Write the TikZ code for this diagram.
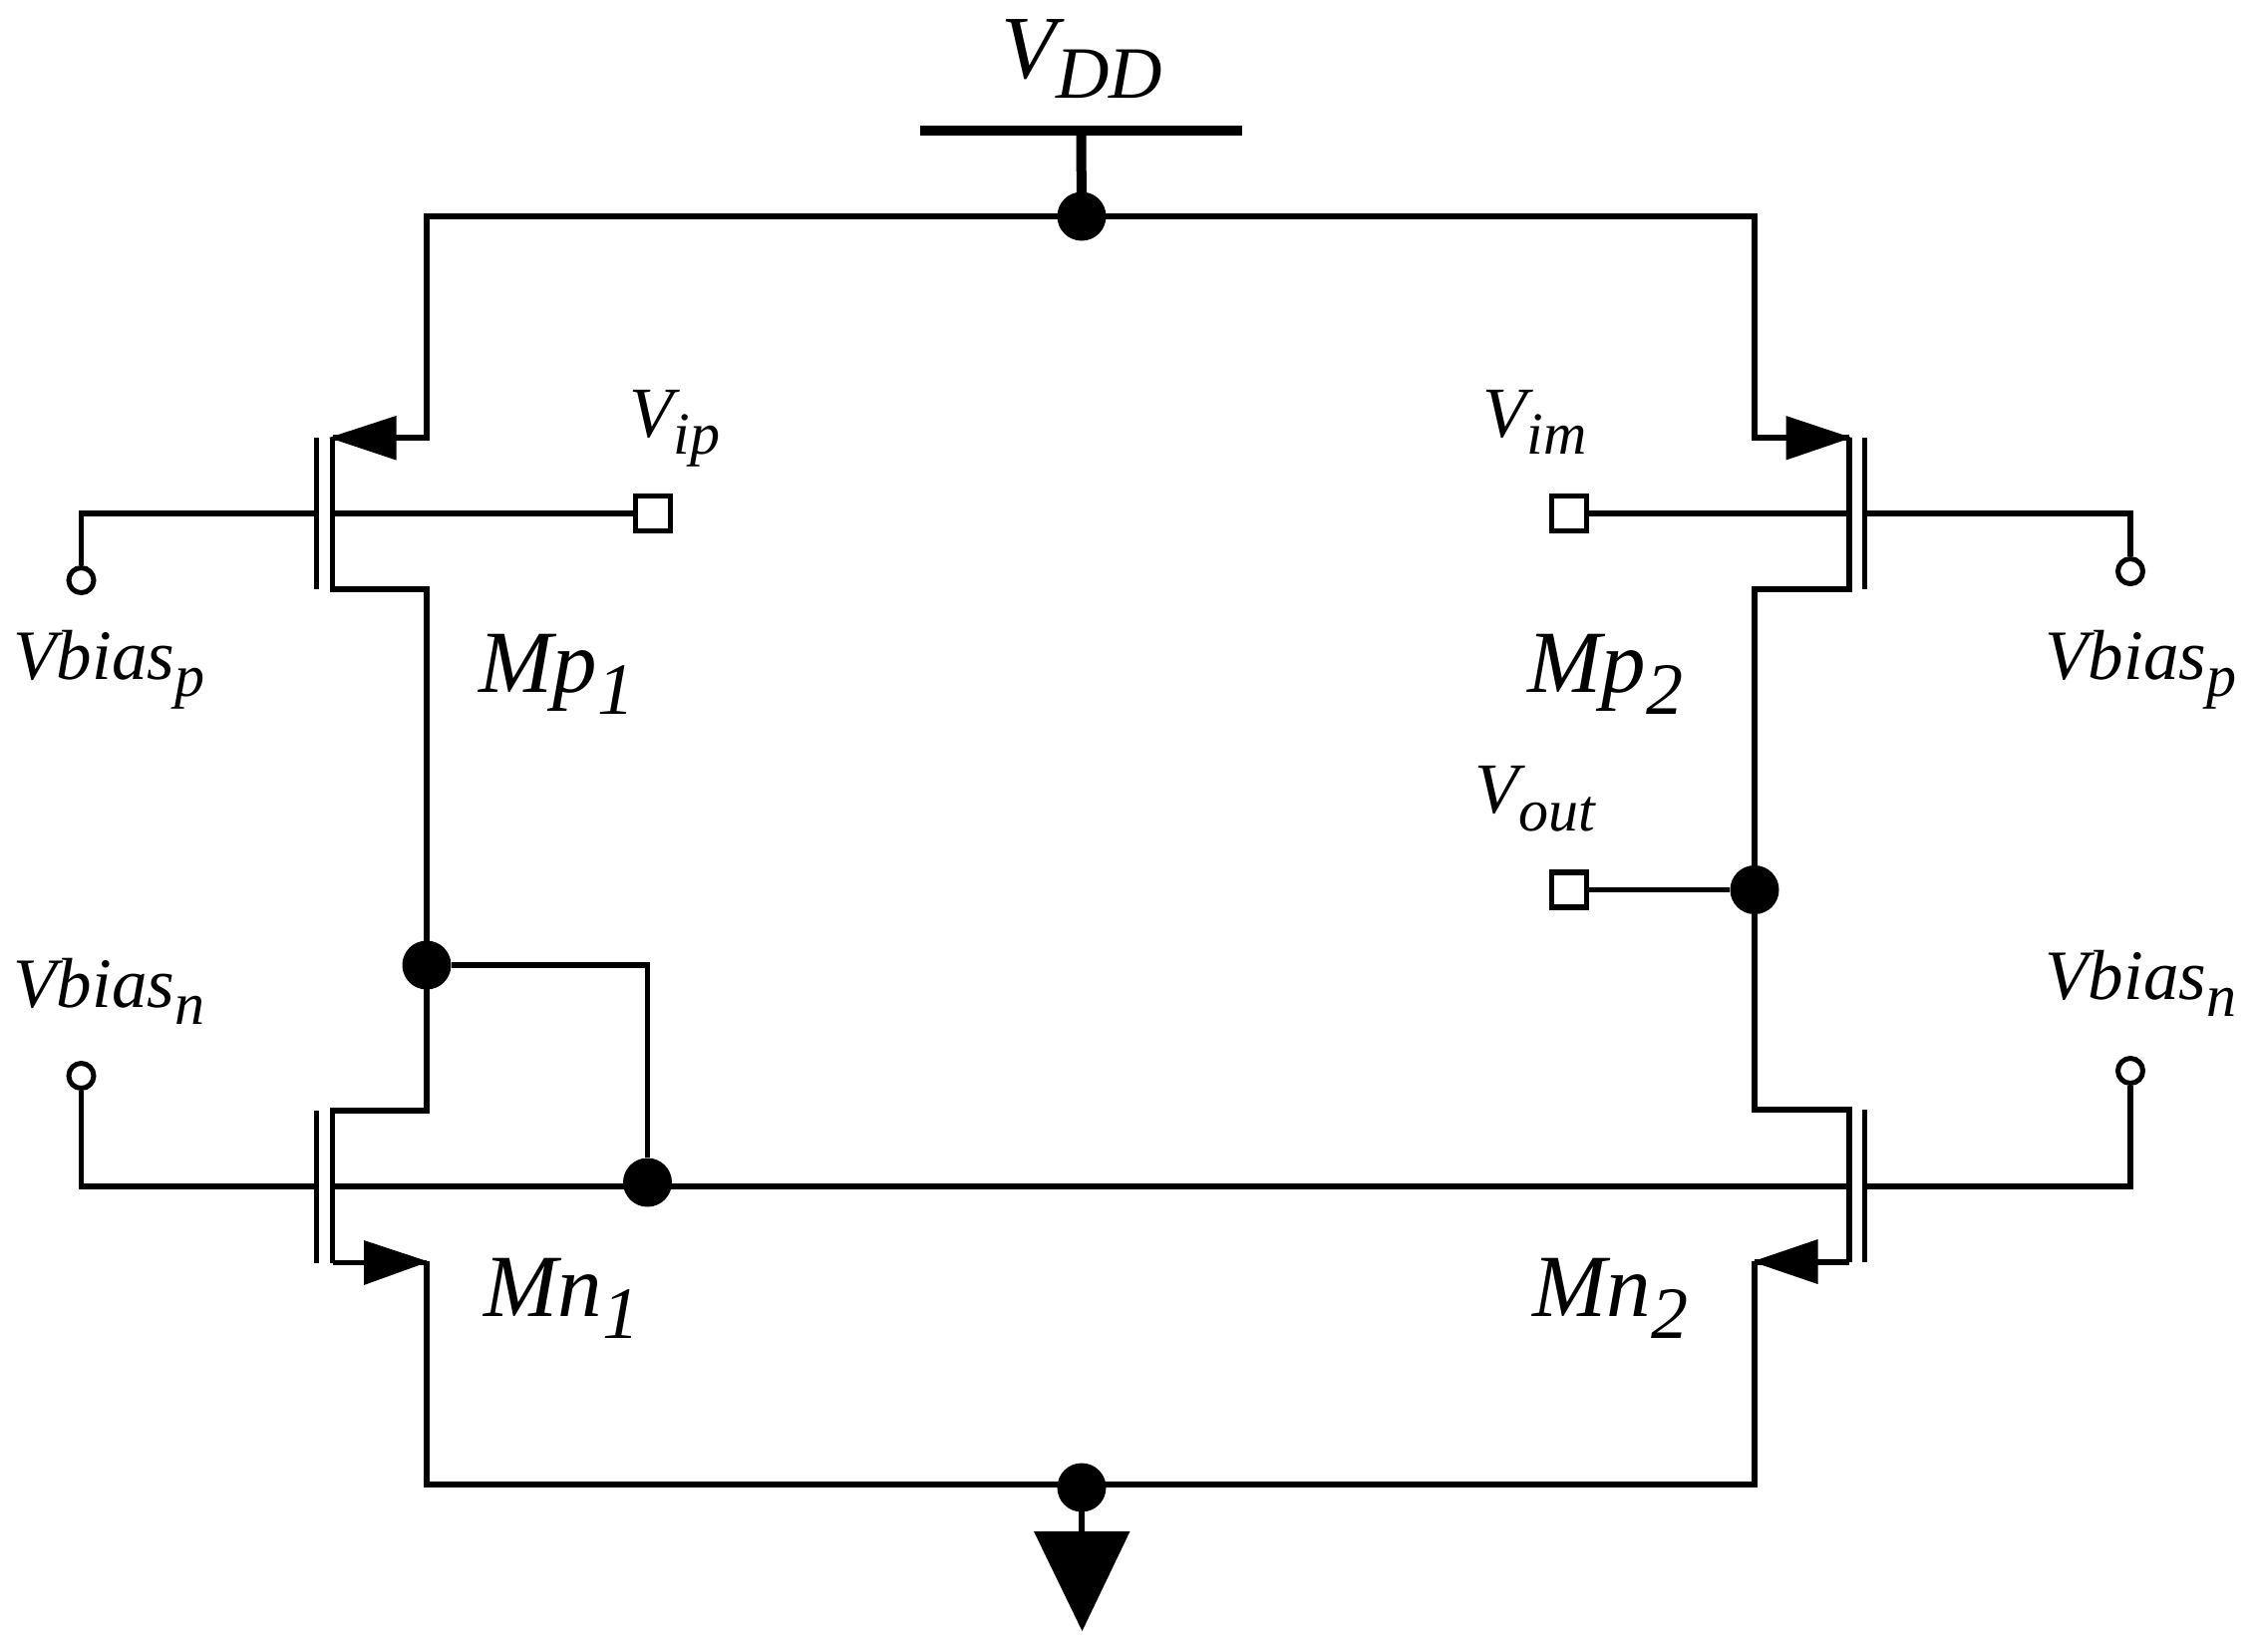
\documentclass[tikz,border=0pt]{standalone}
\usepackage{fontspec}
\setmainfont{Liberation Serif}
\newcommand{\lab}[5]{\fontsize{#3}{#3}\selectfont\itshape #1\raisebox{#5}{\fontsize{#4}{#4}\selectfont #2}}
\tikzset{
  wire/.style={line width=2.8pt,line cap=butt,line join=miter},
  gatebar/.style={line width=2.6pt},
  dotnode/.style={circle,fill=black,draw=none,inner sep=0pt,minimum size=24.5pt},
  termc/.style={circle,draw=black,fill=white,line width=2.5pt,inner sep=0pt,minimum size=12.5pt},
  terms/.style={rectangle,draw=black,fill=white,line width=2.6pt,inner sep=0pt,minimum size=17.5pt},
  head/.style={fill=black,draw=none},
  biglab/.style={inner sep=0pt,anchor=base west},
}
\begin{document}
\begin{tikzpicture}[x=0.5pt,y=-0.5pt]
\useasboundingbox (0,0) rectangle (2265,1656);
% junctions and terminals
\coordinate (top) at (1085,217);
\coordinate (tl) at (428,217);
\coordinate (tr) at (1760,217);
\coordinate (bl) at (428,1489);
\coordinate (br) at (1760,1489);
\coordinate (railR) at (1760,439);
% frame wires
\draw[wire] (333.5,439) -- (428,439) -- (tl) -- (tr) -- (railR) -- (1855,439);
\draw[wire] (333.5,1266.5) -- (428,1266.5);
\draw[wire] (428,1265) -- (bl) -- (br) -- (1760,1265);
\draw[wire] (1760,1266) -- (1855,1266);
% channels
\draw[wire] (428,968) -- (428,591) -- (333.5,591) -- (333.5,439);
\draw[wire] (428,968) -- (428,1114) -- (333.5,1114) -- (333.5,1266.5);
\draw[wire] (1760,892.5) -- (1760,591) -- (1855,591) -- (1855,439);
\draw[wire] (1760,892.5) -- (1760,1113) -- (1855,1113) -- (1855,1266);
% gate bars
\draw[gatebar] (317.5,439) -- (317.5,591);
\draw[gatebar] (317.5,1114) -- (317.5,1266.5);
\draw[gatebar] (1870.5,439) -- (1870.5,591);
\draw[gatebar] (1870.5,1113) -- (1870.5,1266);
% arrowheads
\fill[head] (330,439) -- (397.5,417) -- (397.5,461.5) -- cycle;
\fill[head] (1857.5,439) -- (1791.5,417) -- (1791.5,461.5) -- cycle;
\fill[head] (430,1265.5) -- (365,1244) -- (365,1289) -- cycle;
\fill[head] (1757.5,1265.5) -- (1823.5,1243) -- (1823.5,1288) -- cycle;
% supply
\draw[line width=5pt] (923,131) -- (1245.5,131);
\draw[line width=5pt] (1084.5,131) -- (top);
\draw[line width=2.6pt] (1085,1492) -- (1085,1536);
\fill[head] (1037,1536) -- (1133.5,1536) -- (1085.5,1636) -- cycle;
% nodes
\node[dotnode] (ntop) at (top) {};
\node[dotnode] (nbot) at (1085,1492) {};
\node[dotnode] (nd1) at (428,968) {};
\node[dotnode] (nb) at (649.5,1186) {};
\node[dotnode] (nout) at (1760,892.5) {};
\node[termc] (cpl) at (81.5,582) {};
\node[termc] (cnl) at (81.5,1079) {};
\node[termc] (cpr) at (2137,573) {};
\node[termc] (cnr) at (2137,1074) {};
\node[terms] (vip) at (655,515) {};
\node[terms] (vim) at (1574,515) {};
\node[terms] (vout) at (1574,892.5) {};
% gate and input connectors
\draw[wire] (cpl.north) -- (81.5,515) -- (317.5,515);
\draw[wire] (333.5,515) -- (vip.west);
\draw[wire] (vim.east) -- (1855,515);
\draw[wire] (1870.5,515) -- (2137,515) -- (cpr.north);
\draw[wire] (cnl.south) -- (81.5,1190) -- (317.5,1190);
\draw[wire] (333.5,1190) -- (1855,1190);
\draw[wire] (1870.5,1190) -- (2137,1190) -- (cnr.south);
\draw[wire] (nd1.east) -- (649.5,968) -- (nb.north);
\draw[wire] (vout.east) -- (nout.west);
% labels
\node[biglab] (lvdd) at (1004,78) {\lab{V}{DD}{45pt}{37pt}{-10pt}};
\node[biglab] (lvip) at (631,438) {\lab{V}{ip}{36pt}{30pt}{-8.5pt}};
\node[biglab] (lvim) at (1487,438) {\lab{V}{im}{36pt}{30pt}{-8.5pt}};
\node[biglab] (lvout) at (1479,815) {\lab{V}{out}{36pt}{30pt}{-9pt}};
\node[biglab] (lbpl) at (13,681.5) {\lab{Vbias}{p}{35.5pt}{30pt}{-8.5pt}};
\node[biglab] (lbpr) at (2051,681.5) {\lab{Vbias}{p}{35.5pt}{30pt}{-8.5pt}};
\node[biglab] (lbnl) at (13,1010.5) {\lab{Vbias}{n}{35.5pt}{30pt}{-8.5pt}};
\node[biglab] (lbnr) at (2051,1002) {\lab{Vbias}{n}{35.5pt}{30pt}{-8.5pt}};
\node[biglab] (lmp1) at (480,694) {\lab{Mp}{1}{44.5pt}{37pt}{-11pt}};
\node[biglab] (lmp2) at (1532,694) {\lab{Mp}{2}{44.5pt}{37pt}{-11pt}};
\node[biglab] (lmn1) at (485,1320) {\lab{Mn}{1}{44.5pt}{37pt}{-11pt}};
\node[biglab] (lmn2) at (1537,1320) {\lab{Mn}{2}{44.5pt}{37pt}{-11pt}};
\end{tikzpicture}
\end{document}
